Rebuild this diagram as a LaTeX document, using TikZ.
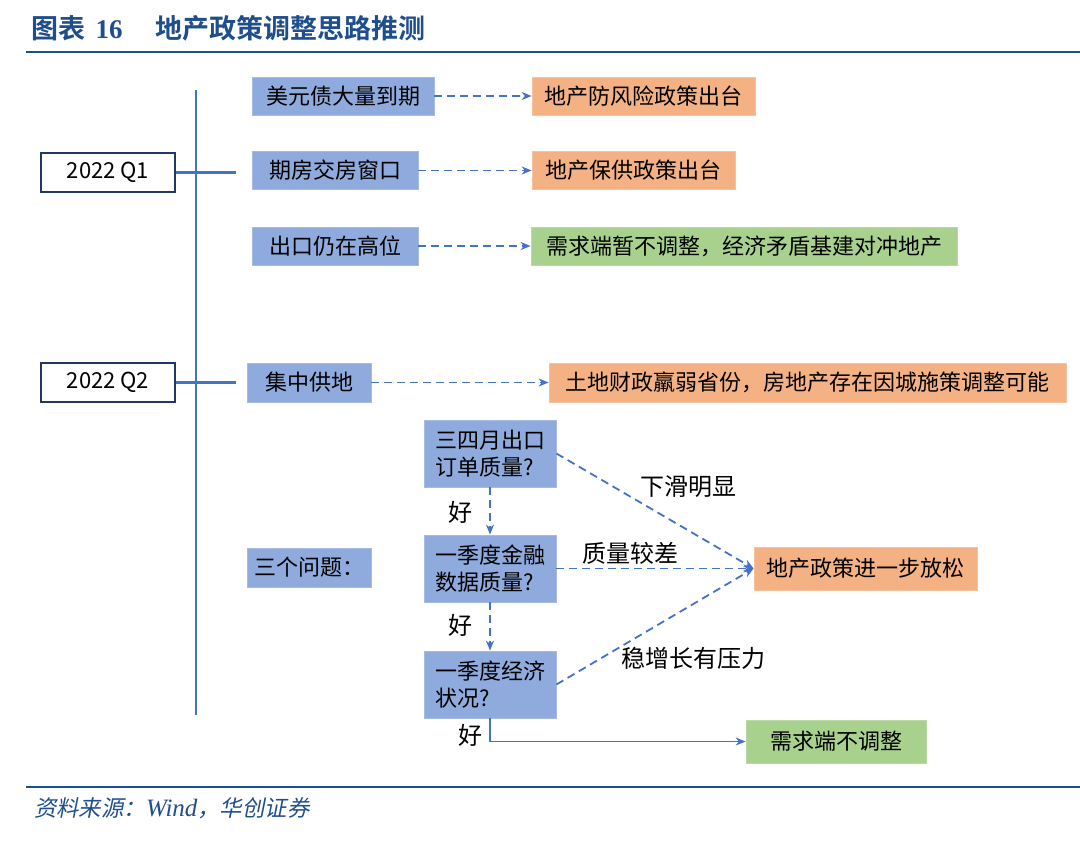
\documentclass[tikz,border=0pt]{standalone}
\usepackage{fontspec}
\usepackage{xcolor}
\usetikzlibrary{arrows.meta}
\newfontfamily\cjk{Noto Sans CJK SC}
\newfontfamily\cjkbold{Noto Sans CJK SC Bold}
\newfontfamily\cjkslant{Noto Sans CJK SC}[FakeSlant=0.2]
\newfontfamily\serifbold{Liberation Serif Bold}
\newfontfamily\serifit{Liberation Serif Italic}
\definecolor{navy}{HTML}{1F4E8C}
\definecolor{frame}{HTML}{203864}
\definecolor{link}{HTML}{4472C4}
\definecolor{cause}{HTML}{8FAADC}
\definecolor{policy}{HTML}{F4B183}
\definecolor{hold}{HTML}{A9D18E}

\begin{document}
\begin{tikzpicture}[x=0.5pt, y=-0.5pt, font=\cjk\fontsize{11}{13.5}\selectfont,
    quarter/.style={draw=frame, line width=0.8pt, fill=white, minimum width=67pt, minimum height=19.5pt, inner sep=0pt},
    causebox/.style={fill=cause, draw=cause!80!white, minimum height=19pt, inner sep=0pt},
    policybox/.style={fill=policy, draw=policy!80!white, minimum height=19pt, inner sep=0pt},
    holdbox/.style={fill=hold, draw=hold!80!white, minimum height=19pt, inner sep=0pt},
    askbox/.style={fill=cause, draw=cause!80!white, minimum width=66pt, minimum height=33.5pt, inner sep=0pt, align=left},
    branch/.style={font=\cjk\fontsize{12}{14}\selectfont},
    dashlink/.style={draw=link, line width=0.9pt, dash pattern=on 4pt off 2.5pt, -{Stealth[length=5pt, width=4pt]}},
    solidlink/.style={draw=link, line width=0.6pt, -{Stealth[length=5pt, width=4pt]}}]
  \useasboundingbox (0,0) rectangle (1080,861);

  % Title and rules.
  \node[anchor=west, text=navy, font=\cjkbold\fontsize{13.5}{15}\selectfont] (title) at (24,28)
    {图表\ \,{\serifbold 16}\quad\ 地产政策调整思路推测};
  \draw[navy, line width=1.2pt] (26,52) -- (1080,52);
  \draw[navy, line width=1.2pt] (26,787) -- (1080,787);
  \node[anchor=west, text=navy, font=\cjkslant\fontsize{11.2}{13}\selectfont] (source) at (27,808)
    {资料来源：{\serifit\fontsize{12.5}{13}\selectfont Wind}，华创证券};

  % Spine with the two quarters.
  \coordinate (spine top) at (196,90);
  \coordinate (spine bot) at (196,715);
  \coordinate (q1 tip) at (236,172.5);
  \coordinate (q2 tip) at (236,382.5);
  \draw[link, line width=1.2pt] (spine top) -- (spine bot);
  \node[quarter] (y1) at (108,172.5) {2022 Q1};
  \node[quarter] (y2) at (108,382.5) {2022 Q2};
  \draw[link, line width=1.2pt] (y1.east) -- (q1 tip);
  \draw[link, line width=1.2pt] (y2.east) -- (q2 tip);

  % Q1 drivers and outcomes.
  \node[causebox, minimum width=91pt] (c1) at (343,96) {美元债大量到期};
  \node[causebox, minimum width=83pt] (c2) at (335,170.5) {期房交房窗口};
  \node[causebox, minimum width=83pt] (c3) at (335,246) {出口仍在高位};
  \node[policybox, minimum width=111.5pt] (e1) at (643.5,96) {地产防风险政策出台};
  \node[policybox, minimum width=101.5pt] (e2) at (633.5,170.5) {地产保供政策出台};
  \node[holdbox, minimum width=213pt] (e3) at (744,246) {需求端暂不调整，经济矛盾基建对冲地产};
  \draw[dashlink] (c1) -- (e1);
  \draw[dashlink] (c2) -- (e2);
  \draw[dashlink] (c3) -- (e3);

  % Q2 drivers and outcomes.
  \node[causebox, minimum width=62pt, minimum height=19.5pt] (c4) at (309,382.5) {集中供地};
  \node[policybox, minimum width=258.5pt, minimum height=19.5pt] (e4) at (807.5,382.5) {土地财政羸弱省份，房地产存在因城施策调整可能};
  \draw[dashlink] (c4) -- (e4);
  \node[causebox, minimum width=62pt, minimum height=19.5pt] (c5) at (309,567.5) {三个问题：};

  % The three questions.
  \node[askbox] (ask1) at (490,453.5) {三四月出口\\订单质量?};
  \node[askbox] (ask2) at (490,568.5) {一季度金融\\数据质量?};
  \node[askbox] (ask3) at (490,684.5) {一季度经济\\状况?};
  \node[policybox, minimum width=111.5pt, minimum height=21.5pt] (loosen) at (865.5,568.5) {地产政策进一步放松};
  \node[holdbox, minimum width=90pt, minimum height=21.5pt] (stay) at (836,741.5) {需求端不调整};

  \draw[dashlink] (ask1) -- (ask2);
  \draw[dashlink] (ask2) -- (ask3);
  \draw[dashlink] (ask1.east) -- (loosen.west);
  \draw[dashlink] (ask2.east) -- (loosen.west);
  \draw[dashlink] (ask3.east) -- (loosen.west);
  \draw[solidlink] (ask3.south) |- (stay.west);

  % Branch labels.
  \node[branch] (good1) at (460,512) {好};
  \node[branch] (good2) at (460,625) {好};
  \node[branch] (good3) at (470,735) {好};
  \node[branch] (drop) at (688,487) {下滑明显};
  \node[branch] (poor) at (630,553) {质量较差};
  \node[branch] (press) at (693,658) {稳增长有压力};
\end{tikzpicture}
\end{document}
